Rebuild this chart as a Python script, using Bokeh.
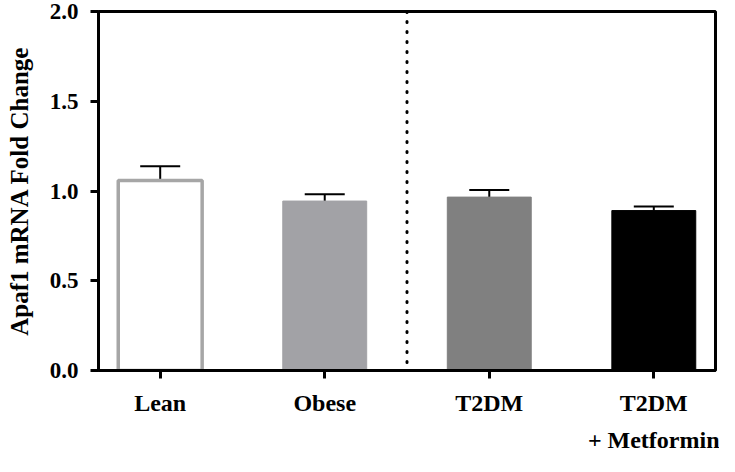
from bokeh.plotting import figure
from bokeh.models import Range1d, FixedTicker, Whisker, ColumnDataSource, TeeHead, Span
from bokeh.embed import file_html
from bokeh.resources import INLINE

# Data
groups = ["Lean", "Obese", "T2DM", "T2DM\n+ Metformin"]
positions = [0, 1, 2, 3]
fold_change = [1.058, 0.944, 0.966, 0.891]
sem = [0.080, 0.038, 0.039, 0.023]
y_ticks = [0.0, 0.5, 1.0, 1.5, 2.0]
y_tick_labels = ["0.0", "0.5", "1.0", "1.5", "2.0"]

fills = ["white", "#a2a2a6", "#808080", "#000000"]
outlines = ["#a6a6a6", "#a2a2a6", "#808080", "#000000"]
outline_w = [3.5, 1, 1, 1]

upper = [v + e for v, e in zip(fold_change, sem)]
src = ColumnDataSource(dict(x=positions, top=fold_change, upper=upper,
                            fill=fills, line=outlines, lw=outline_w))

p = figure(width=719, height=456, output_backend="svg", toolbar_location=None,
           x_range=Range1d(-0.375, 3.375), y_range=Range1d(0, 2.0),
           min_border_left=98, min_border_right=4, min_border_top=11, min_border_bottom=80)

p.vbar(x="x", top="top", bottom=0, width=0.51, source=src,
       fill_color="fill", line_color="line", line_width="lw")

w = Whisker(base="x", lower="top", upper="upper", source=src, dimension="height",
            line_color="black", line_width=2,
            upper_head=TeeHead(size=40, line_color="black", line_width=2),
            lower_head=None)
p.add_layout(w)

p.add_layout(Span(location=1.5, dimension="height", line_color="black",
                  line_width=3, line_dash="1 9", line_cap="round"))

font = "Liberation Serif"
p.xgrid.visible = False
p.ygrid.visible = False
p.outline_line_color = "black"
p.outline_line_width = 3
p.outline_line_alpha = 1
p.background_fill_color = "white"
p.border_fill_color = "white"

ya = p.yaxis[0]
ya.ticker = FixedTicker(ticks=y_ticks)
ya.major_label_overrides = {t: l for t, l in zip(y_ticks, y_tick_labels)}
ya.axis_label = "Apaf1 mRNA Fold Change"
ya.axis_label_text_font = font
ya.axis_label_text_font_style = "bold"
ya.axis_label_text_font_size = "25px"
ya.axis_label_text_color = "black"
ya.axis_label_standoff = 14
ya.major_label_text_font = font
ya.major_label_text_font_style = "bold"
ya.major_label_text_font_size = "23px"
ya.major_label_standoff = 12
ya.major_tick_out = 8
ya.major_tick_in = 0
ya.minor_tick_out = 0
ya.minor_tick_in = 0
ya.major_tick_line_width = 3
ya.axis_line_width = 3
ya.major_label_text_color = "black"

xa = p.xaxis[0]
xa.ticker = FixedTicker(ticks=positions)
xa.major_label_overrides = {t: l for t, l in zip(positions, groups)}
xa.major_label_text_font = font
xa.major_label_text_font_style = "bold"
xa.major_label_text_font_size = "24px"
xa.major_label_text_line_height = 1.45
xa.major_label_standoff = 11
xa.major_tick_out = 8
xa.major_tick_in = 0
xa.minor_tick_out = 0
xa.minor_tick_in = 0
xa.major_tick_line_width = 3
xa.axis_line_width = 3
xa.major_label_text_color = "black"

open("out.html", "w").write(file_html(p, INLINE))
